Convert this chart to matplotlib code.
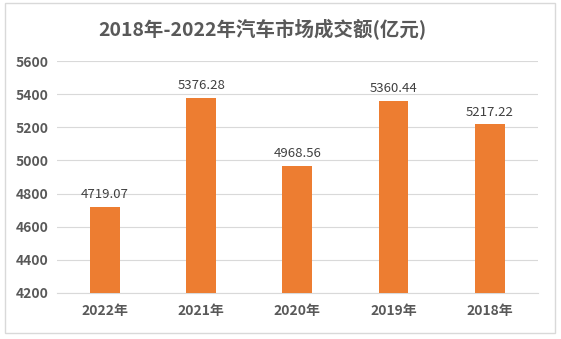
import matplotlib.pyplot as plt
from matplotlib.patches import Rectangle

plt.rcParams['font.family'] = ['Noto Sans CJK SC', 'DejaVu Sans']

# data
years = ['2022年', '2021年', '2020年', '2019年', '2018年']
amounts = [4719.07, 5376.28, 4968.56, 5360.44, 5217.22]
title = '2018年-2022年汽车市场成交额(亿元)'

fig = plt.figure(figsize=(5.61, 3.39), dpi=100)
ax = fig.add_axes([0.1016, 0.136, 0.857, 0.684])

# chart border
fig.patches.append(Rectangle((0.009, 0.018), 0.981, 0.972, transform=fig.transFigure,
                             fill=False, edgecolor='#D9D9D9', linewidth=1))

x = range(len(years))
bars = ax.bar(x, amounts, width=0.31, color='#ED7D31', zorder=3)
for xi, v in zip(x, amounts):
    ax.text(xi, v + 35, f'{v:.2f}', ha='center', va='bottom', fontsize=9.5, color='#404040')

ax.set_ylim(4200, 5600)
ax.set_xlim(-0.5, 4.5)
ax.set_yticks(range(4200, 5601, 200))
ax.set_xticks(list(x))
ax.set_xticklabels(years)
ax.grid(axis='y', color='#D9D9D9', linewidth=0.8, zorder=0)
for s in ['top', 'right', 'left']:
    ax.spines[s].set_visible(False)
ax.spines['bottom'].set_color('#D9D9D9')
ax.tick_params(length=0, labelcolor='#595959', labelsize=10)
ax.tick_params(axis='x', pad=8)
for lab in ax.get_xticklabels() + ax.get_yticklabels():
    lab.set_fontweight('bold')
for lab in ax.get_yticklabels():
    lab.set_horizontalalignment('left')
ax.tick_params(axis='y', pad=29.5)

fig.text(0.467, 0.913, title, ha='center', va='center', fontsize=14, fontweight='bold', color='#595959')

fig.savefig('out.png', dpi=100)
